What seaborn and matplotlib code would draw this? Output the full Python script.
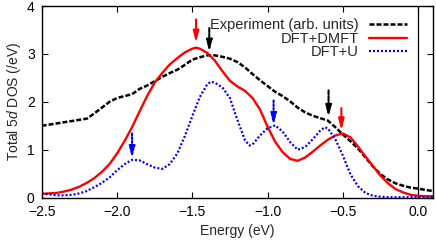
import matplotlib
matplotlib.use("Agg")
import matplotlib.pyplot as plt
import seaborn as sns
import numpy as np
import pandas as pd

# ---- data ----
exp_E = [-2.5, -2.4, -2.3, -2.2, -2.15, -2.1, -2.05, -2.0, -1.95, -1.9, -1.85, -1.8, -1.75,
         -1.7, -1.65, -1.6, -1.55, -1.5, -1.45, -1.4, -1.35, -1.3, -1.25, -1.2, -1.15, -1.1,
         -1.05, -1.0, -0.95, -0.9, -0.85, -0.8, -0.75, -0.7, -0.65, -0.6, -0.55, -0.5, -0.45,
         -0.4, -0.35, -0.3, -0.25, -0.2, -0.15, -0.1, -0.05, 0.0, 0.05, 0.1]
exp_D = [1.50, 1.55, 1.60, 1.65, 1.76, 1.88, 2.00, 2.08, 2.12, 2.16, 2.27, 2.34, 2.43,
         2.52, 2.60, 2.67, 2.77, 2.88, 2.93, 2.97, 2.97, 2.94, 2.90, 2.83, 2.72, 2.58,
         2.45, 2.33, 2.21, 2.12, 2.01, 1.88, 1.78, 1.71, 1.66, 1.61, 1.47, 1.32, 1.18,
         1.03, 0.84, 0.65, 0.49, 0.38, 0.30, 0.25, 0.21, 0.19, 0.16, 0.14]

dmft_E = [-2.5, -2.45, -2.4, -2.35, -2.3, -2.25, -2.2, -2.15, -2.1, -2.05, -2.0, -1.95, -1.9,
          -1.85, -1.8, -1.75, -1.7, -1.65, -1.6, -1.55, -1.5, -1.475, -1.45, -1.4, -1.35, -1.3,
          -1.25, -1.2, -1.15, -1.1, -1.05, -1.0, -0.95, -0.9, -0.85, -0.8, -0.75, -0.7, -0.65,
          -0.6, -0.55, -0.5, -0.45, -0.4, -0.35, -0.3, -0.25, -0.2, -0.15, -0.1, -0.05, 0.0,
          0.05, 0.1]
dmft_D = [0.08, 0.09, 0.10, 0.13, 0.17, 0.23, 0.31, 0.41, 0.54, 0.70, 0.92, 1.18, 1.47,
          1.80, 2.12, 2.40, 2.60, 2.78, 2.91, 3.03, 3.11, 3.13, 3.11, 3.02, 2.86, 2.64,
          2.44, 2.32, 2.23, 2.08, 1.84, 1.48, 1.17, 0.95, 0.81, 0.77, 0.84, 0.96, 1.09,
          1.21, 1.30, 1.34, 1.26, 1.07, 0.86, 0.66, 0.46, 0.30, 0.18, 0.11, 0.06, 0.04,
          0.03, 0.03]

u_E = [-2.5, -2.45, -2.4, -2.35, -2.3, -2.25, -2.2, -2.15, -2.1, -2.05, -2.0, -1.95, -1.9,
       -1.85, -1.8, -1.75, -1.7, -1.65, -1.6, -1.55, -1.5, -1.45, -1.4, -1.375, -1.35, -1.3,
       -1.25, -1.2, -1.15, -1.12, -1.1, -1.05, -1.0, -0.95, -0.9, -0.85, -0.8, -0.75, -0.7,
       -0.65, -0.62, -0.6, -0.55, -0.5, -0.45, -0.4, -0.35, -0.3, -0.25, -0.2, -0.1, 0.0, 0.1]
u_D = [0.09, 0.07, 0.05, 0.05, 0.06, 0.09, 0.14, 0.22, 0.31, 0.42, 0.57, 0.70, 0.79,
       0.78, 0.70, 0.63, 0.60, 0.70, 0.92, 1.28, 1.70, 2.10, 2.37, 2.42, 2.40, 2.30,
       2.08, 1.62, 1.20, 1.09, 1.11, 1.30, 1.45, 1.51, 1.38, 1.16, 1.00, 1.06, 1.22,
       1.40, 1.47, 1.45, 1.22, 0.88, 0.49, 0.24, 0.10, 0.04, 0.02, 0.01, 0.01, 0.01, 0.01]

labels = ["Experiment (arb. units)", "DFT+DMFT", "DFT+U"]
colors = ["black", "#ff0000", "#0000ff"]

# arrows: energy, y start, y end, series index
arrow_E = [-1.475, -1.387, -0.595, -0.51, -1.9, -0.96]
arrow_y0 = [3.72, 3.54, 2.24, 1.87, 1.34, 2.03]
arrow_y1 = [3.23, 3.04, 1.68, 1.40, 0.82, 1.51]
arrow_s = [1, 0, 0, 1, 2, 2]

xticks = [-2.5, -2.0, -1.5, -1.0, -0.5, 0.0]
yticks = [0, 1, 2, 3, 4]

# ---- style ----
sns.set_theme(style="ticks")
plt.rcParams["font.family"] = ["Liberation Sans", "DejaVu Sans"]
plt.rcParams["mathtext.fontset"] = "custom"
plt.rcParams["mathtext.rm"] = "Liberation Sans"
plt.rcParams["mathtext.it"] = "Liberation Sans:italic"
plt.rcParams["axes.unicode_minus"] = True

fig = plt.figure(figsize=(4.36, 2.45), dpi=100)
ax = fig.add_axes([0.0956, 0.193, 0.898, 0.7825])

df = pd.concat([
    pd.DataFrame({"E": exp_E, "D": exp_D, "s": labels[0]}),
    pd.DataFrame({"E": dmft_E, "D": dmft_D, "s": labels[1]}),
    pd.DataFrame({"E": u_E, "D": u_D, "s": labels[2]}),
])

lws = [1.8, 1.7, 1.6]
dash_pat = [(2.0, 0.8), None, (0.9, 0.9)]

handles = []
for i, lab in enumerate(labels):
    sub = df[df["s"] == lab]
    sns.lineplot(data=sub, x="E", y="D", ax=ax, color=colors[i], sort=False,
                 estimator=None, legend=False, lw=lws[i])
    line = ax.lines[-1]
    if dash_pat[i] is not None:
        line.set_dashes(dash_pat[i])
    handles.append(line)

# Fermi level
ax.axvline(0.0, color="black", lw=0.9, zorder=1)

# arrows
ls_map = {0: (0, (2.0, 0.8)), 1: "-", 2: (0, (0.9, 0.9))}
for e, y0, y1, s in zip(arrow_E, arrow_y0, arrow_y1, arrow_s):
    ax.annotate("", xy=(e, y1), xytext=(e, y0),
                arrowprops=dict(arrowstyle="-|>,head_length=0.55,head_width=0.14",
                                color=colors[s], lw=1.5, linestyle=ls_map[s],
                                shrinkA=0, shrinkB=0))

ax.set_xlim(-2.5, 0.1)
ax.set_ylim(0, 4)
ax.set_xticks(xticks)
ax.set_yticks(yticks)
ax.set_xticklabels([f"{t:.1f}".replace("-", "\u2212") for t in xticks])
ax.set_yticklabels([str(t) for t in yticks])
ax.tick_params(direction="in", top=True, right=True, length=4, width=0.8,
               labelsize=10, pad=5, colors="black")
for sp in ax.spines.values():
    sp.set_linewidth(1.0)
    sp.set_color("black")

ax.set_xlabel("Energy (eV)", fontsize=10, labelpad=4)
ax.set_ylabel(r"Total 5$d$ DOS (/eV)", fontsize=10, labelpad=3)

leg = ax.legend(handles, labels, loc="upper right", bbox_to_anchor=(0.933, 0.935),
                markerfirst=False, frameon=False,
                fontsize=10.5, handlelength=2.6, handletextpad=0.7, labelspacing=-0.05,
                borderaxespad=0.0, borderpad=0.0)
for t in leg.get_texts():
    t.set_ha("right")
leg._legend_box.align = "right"

fig.savefig("out.png", dpi=100)
